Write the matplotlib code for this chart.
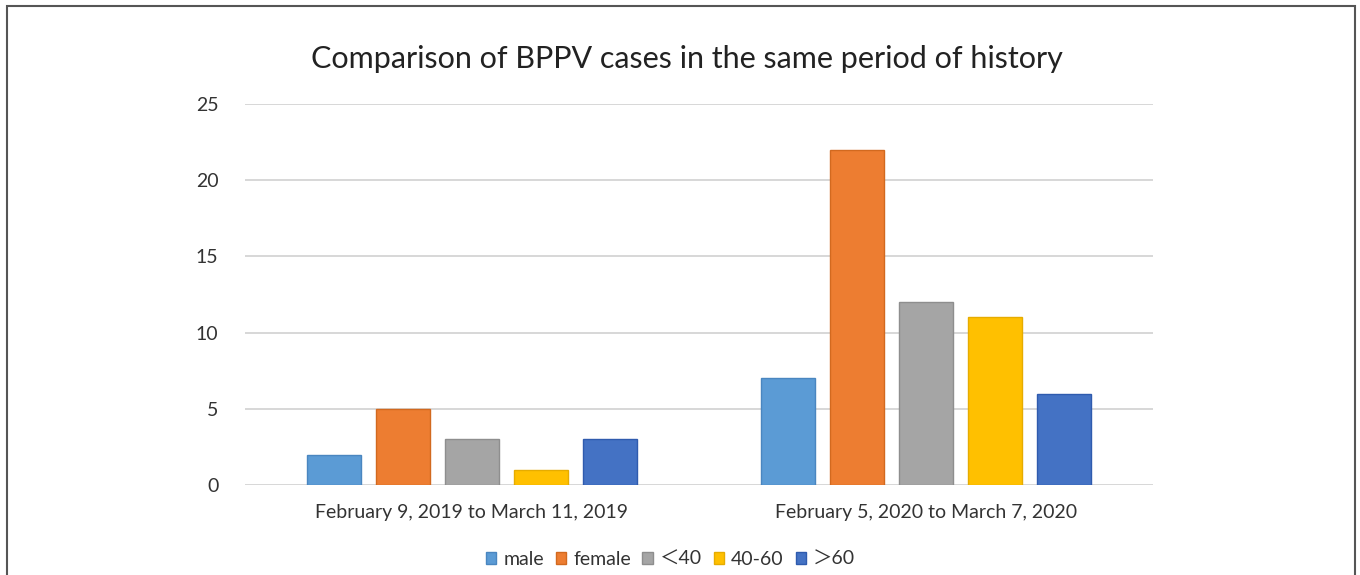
import numpy as np
import matplotlib
matplotlib.use('Agg')
import matplotlib.pyplot as plt
from matplotlib.patches import Rectangle, Patch

# === DATOS ===
periods = ['February 9, 2019 to March 11, 2019', 'February 5, 2020 to March 7, 2020']
groups = ['male', 'female', '＜40', '40-60', '＞60']
values = {
    'male':   [2, 7],
    'female': [5, 22],
    '＜40':   [3, 12],
    '40-60':  [1, 11],
    '＞60':   [3, 6],
}
colors = ['#5B9BD5', '#ED7D31', '#A5A5A5', '#FFC000', '#4472C4']
edges = ['#4A86C0', '#D2691F', '#8E8E8E', '#E6AC00', '#2F5BAE']
yticks = [0, 5, 10, 15, 20, 25]

plt.rcParams['font.family'] = ['Lato', 'Noto Sans CJK SC', 'DejaVu Sans']

fig = plt.figure(figsize=(13.6, 5.75), dpi=100)
ax = fig.add_axes([0.1801, 0.1565, 0.6676, 0.6626])

x = np.arange(len(periods))
width = 0.119
pitch = 0.152
for i, g in enumerate(groups):
    ax.bar(x + (i - 2) * pitch, values[g], width, color=colors[i],
           edgecolor=edges[i], linewidth=1, label=g, zorder=3)

ax.set_xlim(-0.5, 1.5)
ax.set_ylim(0, 25)
ax.set_yticks(yticks)
ax.set_xticks(x)
ax.set_xticklabels(periods, fontsize=14, color='#333333')
ax.tick_params(axis='y', labelsize=14, colors='#333333', length=0, pad=19)
ax.tick_params(axis='x', length=0, pad=14)
ax.grid(axis='y', color='#D4D4D4', linewidth=1.3, zorder=0)
for s in ax.spines.values():
    s.set_visible(False)

fig.text(0.505, 0.898, 'Comparison of BPPV cases in the same period of history',
         ha='center', va='center', fontsize=22, color='#222222')

handles = [Patch(facecolor=colors[i], edgecolor=edges[i], label=g)
           for i, g in enumerate(groups)]
fig.legend(handles=handles, loc='center', bbox_to_anchor=(0.493, 0.027), ncol=5,
           frameon=False, fontsize=14, handlelength=0.55, handleheight=0.55,
           handletextpad=0.35, columnspacing=0.6, labelcolor='#333333')

# marco exterior
fig.patches.append(Rectangle((7 / 1360, -0.05), 1348 / 1360, 1.05 - 6 / 575,
                             transform=fig.transFigure, fill=False,
                             edgecolor='#555555', linewidth=1.5))

fig.savefig('out.png', dpi=100)
